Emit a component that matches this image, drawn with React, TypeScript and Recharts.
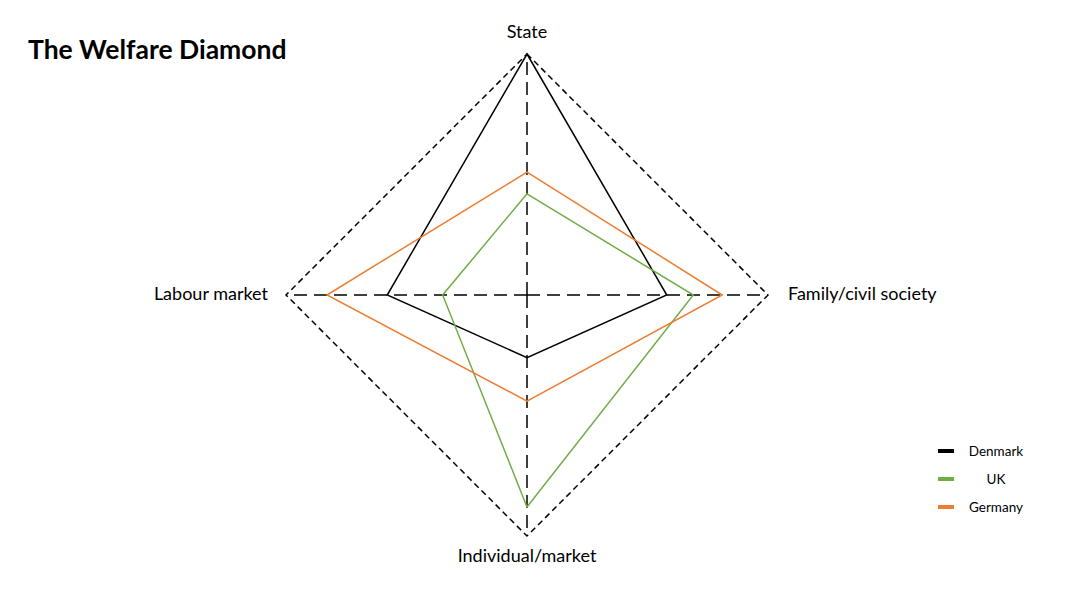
import { RadarChart, Radar, PolarGrid, PolarAngleAxis, PolarRadiusAxis, Legend } from 'recharts';

const axes = ['State', 'Family/civil society', 'Individual/market', 'Labour market'];
const denmark = [1.0, 0.58, 0.26, 0.58];
const uk = [0.42, 0.69, 0.88, 0.35];
const germany = [0.51, 0.81, 0.44, 0.83];

const seriesNames = ['Denmark', 'UK', 'Germany'];
const seriesColors = ['#000000', '#70AD47', '#ED7D31'];

const data = axes.map((axis, i) => ({
  axis,
  Denmark: denmark[i],
  UK: uk[i],
  Germany: germany[i],
}));

const FONT = 'Lato, "Open Sans", sans-serif';

const CX = 519;
const CY = 287;

interface TickProps {
  x?: number;
  y?: number;
  payload?: { value: string };
}

const AxisTick = ({ x = 0, y = 0, payload }: TickProps) => {
  const v = payload?.value ?? '';
  let dx = 0;
  let dy = 0;
  let anchor: 'start' | 'middle' | 'end' = 'middle';
  if (Math.abs(x - CX) < 1) {
    anchor = 'middle';
    dy = y < CY ? -8.5 : 18;
  } else if (x > CX) {
    anchor = 'start';
    dx = 12;
    dy = 5;
  } else {
    anchor = 'end';
    dx = -10;
    dy = 5;
  }
  return (
    <text x={x + dx} y={y + dy} textAnchor={anchor} fontSize={18} fill="#000" fontFamily={FONT}>
      {v}
    </text>
  );
};

const renderLegend = () => (
  <div style={{ fontFamily: FONT, fontSize: 13.5, color: '#000' }}>
    {seriesNames.map((name, i) => (
      <div key={name} style={{ display: 'flex', alignItems: 'center', height: 28 }}>
        <span style={{ display: 'inline-block', width: 16, height: 4, background: seriesColors[i] }} />
        <span style={{ width: 72, textAlign: 'center', marginLeft: 6 }}>{name}</span>
      </div>
    ))}
  </div>
);

export default function App() {
  return (
    <div style={{ position: 'relative', width: 1064, height: 580 }}>
      <div
        style={{
          position: 'absolute',
          left: 20,
          top: 25,
          fontFamily: FONT,
          fontWeight: 700,
          fontSize: 26.5,
          color: '#000',
        }}
      >
        The Welfare Diamond
      </div>
      <RadarChart width={1064} height={580} data={data} cx={CX} cy={CY} outerRadius={241} startAngle={90} endAngle={-270}>
        <PolarGrid gridType="polygon" polarRadius={[0]} stroke="#000" strokeWidth={1.5} strokeDasharray="13 7" />
        <PolarAngleAxis
          dataKey="axis"
          axisLineType="polygon"
          axisLine={{ stroke: '#000', strokeWidth: 1.5, strokeDasharray: '6 4' }}
          tickLine={false}
          tick={<AxisTick />}
        />
        <PolarRadiusAxis domain={[0, 1]} tick={false} axisLine={false} />
        {seriesNames.map((name, i) => (
          <Radar
            key={name}
            name={name}
            dataKey={name}
            stroke={seriesColors[i]}
            strokeWidth={1.5}
            fill="none"
            fillOpacity={0}
            dot={false}
            isAnimationActive={false}
          />
        ))}
        <Legend
          content={renderLegend}
          wrapperStyle={{ position: 'absolute', left: 930, top: 429, width: 110 }}
        />
      </RadarChart>
    </div>
  );
}
